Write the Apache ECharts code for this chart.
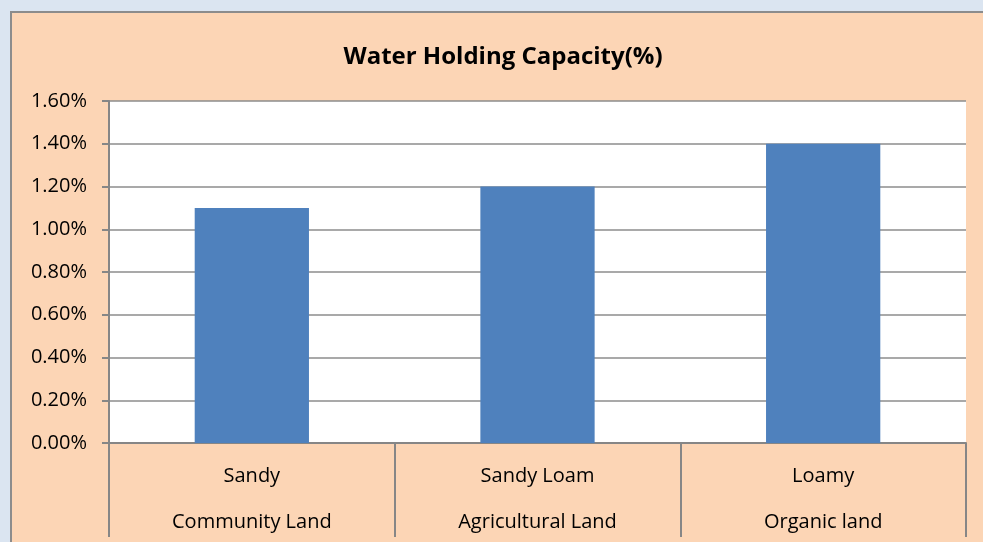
<!DOCTYPE html>
<html>
<head>
<meta charset="utf-8">
<script src="https://cdn.jsdelivr.net/npm/echarts@6/dist/echarts.min.js"></script>
<style>
  html, body { margin: 0; padding: 0; background: #dbe5f1; }
  #chart { width: 983px; height: 542px; }
</style>
</head>
<body>
<div id="chart"></div>
<script>
// 数据
var soilTypes = ["Sandy", "Sandy Loam", "Loamy"];
var landTypes = ["Community Land", "Agricultural Land", "Organic land"];
var capacity = [1.10, 1.20, 1.40];

var chart = echarts.init(document.getElementById("chart"));
var font = "Open Sans";

var option = {
  backgroundColor: "#dbe5f1",
  animation: false,
  graphic: [
    {
      type: "rect",
      z: -10,
      shape: { x: 11, y: 12, width: 1000, height: 560 },
      style: { fill: "#fcd5b5", stroke: "#8c8c8c", lineWidth: 2 }
    }
  ],
  title: {
    text: "Water Holding Capacity(%)",
    left: 498,
    textAlign: "center",
    top: 40,
    textStyle: { fontFamily: font, fontSize: 24, fontWeight: "bold", color: "#000" }
  },
  grid: {
    left: 109, right: 17, top: 101, bottom: 99,
    outerBoundsMode: "none",
    containLabel: false,
    show: true, backgroundColor: "#fff", borderWidth: 0
  },
  xAxis: {
    type: "category",
    data: soilTypes,
    axisLine: { show: true, lineStyle: { color: "#868686", width: 2 } },
    axisTick: { show: true, length: 94, lineStyle: { color: "#868686", width: 2 } },
    axisLabel: {
      margin: 10,
      fontFamily: font,
      fontSize: 20,
      color: "#000",
      lineHeight: 46,
      formatter: function (v, i) {
        return v + "\n" + landTypes[i];
      }
    }
  },
  yAxis: {
    type: "value",
    min: 0,
    max: 1.6,
    interval: 0.2,
    axisLine: { show: true, lineStyle: { color: "#868686", width: 2 } },
    axisTick: { show: true, length: 7, lineStyle: { color: "#868686", width: 2 } },
    splitLine: { show: true, lineStyle: { color: "#8c8c8c", width: 1.5 } },
    axisLabel: {
      margin: 22,
      fontFamily: font,
      fontSize: 20,
      color: "#000",
      formatter: function (v) { return v.toFixed(2) + "%"; }
    }
  },
  series: [
    {
      type: "bar",
      data: capacity,
      barWidth: "40%",
      itemStyle: { color: "#4f81bd" }
    }
  ]
};

chart.setOption(option);
</script>
</body>
</html>
